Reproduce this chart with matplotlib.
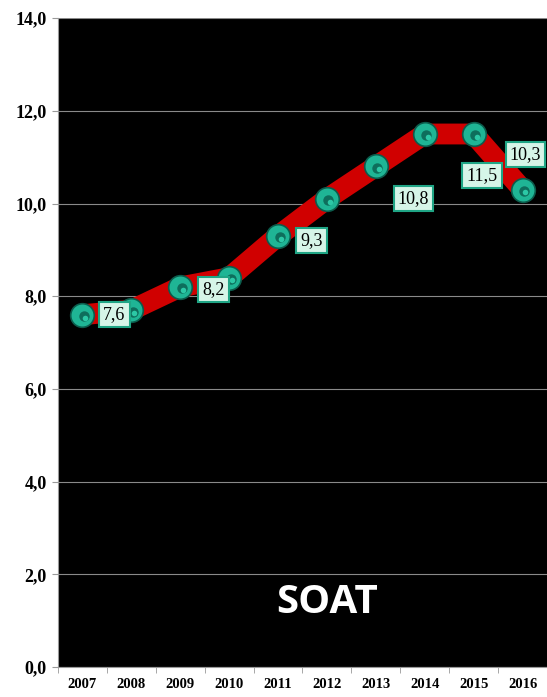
import matplotlib.pyplot as plt
import numpy as np

# datos
anios = ['2007', '2008', '2009', '2010', '2011', '2012', '2013', '2014', '2015', '2016']
valores = [7.6, 7.7, 8.2, 8.4, 9.3, 10.1, 10.8, 11.5, 11.5, 10.3]
# etiquetas visibles (indice, texto, desplazamiento en puntos)
etiquetas = [(0, '7,6', (23, 0)), (2, '8,2', (24, -2)), (4, '9,3', (24, -3)),
             (6, '10,8', (27, -23)), (8, '11,5', (6, -30)), (9, '10,3', (2, 25))]

fig = plt.figure(figsize=(5.47, 6.97), dpi=100)
ax = fig.add_axes([0.106, 0.043, 0.894, 0.931])
ax.set_facecolor('black')

x = np.arange(len(anios))
ax.plot(x, valores, color='#d00000', lw=15, solid_capstyle='round', solid_joinstyle='round', zorder=3)
ax.plot(x, valores, 'o', ms=17, mfc='#1fb595', mec='#0b5c4c', mew=1.2, zorder=4)
ax.plot(x + 0.03, np.array(valores) - 0.03, 'o', ms=7.5, mfc='#0e6e5c', mec='none', zorder=5)
ax.plot(x + 0.06, np.array(valores) - 0.06, 'o', ms=4, mfc='#2cc8a6', mec='none', zorder=6)

for i, txt, off in etiquetas:
    ax.annotate(txt, (x[i], valores[i]), xytext=off, textcoords='offset points',
                ha='center', va='center', fontsize=13, family='Liberation Serif',
                bbox=dict(boxstyle='square,pad=0.22', fc='#d6f5e8', ec='#1fa585', lw=1.5),
                zorder=7)

ax.set_ylim(0, 14)
ax.set_xlim(-0.5, len(anios) - 0.5)
ax.set_yticks(np.arange(0, 15, 2))
ax.set_yticklabels([('%.1f' % v).replace('.', ',') for v in np.arange(0, 15, 2)])
ax.yaxis.grid(True, color='#8a8a8a', lw=0.8)
ax.set_axisbelow(True)

ax.set_xticks(x)
ax.set_xticklabels(anios)
ax.set_xticks(np.arange(-0.5, len(anios)), minor=True)
ax.tick_params(axis='x', which='major', length=0, pad=8)
ax.tick_params(axis='x', which='minor', length=4, color='#999999')
ax.tick_params(axis='y', length=4, color='#999999', pad=4)
for l in ax.get_xticklabels():
    l.set_fontfamily('Liberation Serif')
    l.set_fontweight('bold')
    l.set_fontsize(10.5)
for l in ax.get_yticklabels():
    l.set_fontfamily('Liberation Serif')
    l.set_fontweight('bold')
    l.set_fontsize(13)

for s in ['top', 'right']:
    ax.spines[s].set_visible(False)
ax.spines['left'].set_color('#999999')
ax.spines['bottom'].set_color('#999999')

ax.text(0.55, 0.1, 'SOAT', transform=ax.transAxes, color='white', fontsize=29,
        fontweight='bold', family='Open Sans', ha='center', va='center')

fig.savefig('out.png', dpi=100)
